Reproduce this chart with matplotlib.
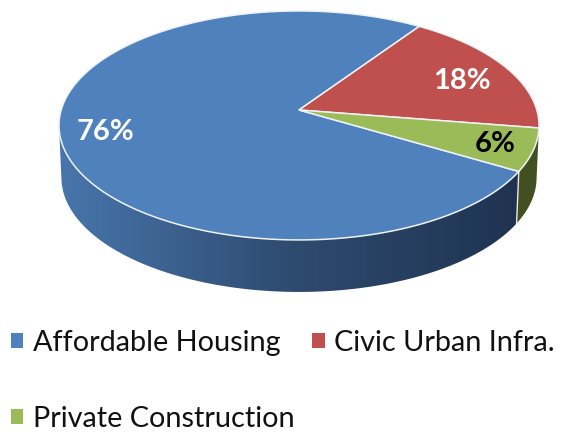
import numpy as np
import matplotlib
matplotlib.use("Agg")
import matplotlib.pyplot as plt
from matplotlib.colors import LinearSegmentedColormap
from matplotlib.patches import Patch, Polygon

plt.rcParams['font.family'] = ['Lato', 'DejaVu Sans']

categories = ["Affordable Housing", "Civic Urban Infra.", "Private Construction"]
values = [76, 18, 6]
colors = ["#4F81BD", "#C0504D", "#9BBB59"]
pct_labels = ["76%", "18%", "6%"]
pct_colors = ["white", "white", "black"]

# tilt of the disc: maps the unit circle to the image, apex stays at (ax0, ay0)
ax0, ay0 = 299, 110
q, p, k = 237.8, 112.4, 0.135
depth = 52


def project(theta, shift=0.0, scale=1.0):
    t = np.radians(theta)
    w = 1 + k*np.sin(t)
    return ax0 + scale*q*np.cos(t)/w, ay0 - p*np.sin(t)/w + shift


fig = plt.figure(figsize=(5.68, 4.40), dpi=100)
ax = fig.add_axes([0, 0, 1, 1])
wedges, _ = ax.pie(values, colors=colors, startangle=-30.6, counterclock=False, frame=True)
ax.set_aspect("auto")

# pie angles run clockwise past -360, bring the green/blue border back
border = wedges[2].theta1 + 360

# side wall, blue part with left to right shading
t_blue = np.linspace(-170, border, 300)
t_wide = np.linspace(border, -172, 300)
x1, y1 = project(t_blue)
x2, y2 = project(t_wide, depth, 0.99)
side = Polygon(np.column_stack([np.r_[x1, x2], np.r_[y1, y2]]), closed=True, fc="none", ec="none")
ax.add_patch(side)
shade = LinearSegmentedColormap.from_list("side", ["#4876AC", "#2E4B70", "#1F3350"])
im = ax.imshow(np.linspace(0, 1, 256)[None, :], extent=(58, 520, 300, 100), cmap=shade, aspect="auto", zorder=1)
im.set_clip_path(side)

# side wall of the green slice
t_g = np.linspace(border, -8, 60)
xg1, yg1 = project(t_g)
xg2, yg2 = project(t_g[::-1], depth, 0.99)
ax.fill(np.r_[xg1, xg2], np.r_[yg1, yg2], fc="#414F21", ec="none", zorder=1)
xa, ya = project(border)
xb, yb = project(border, depth, 0.99)
ax.plot([xa, xb], [ya, yb], color="#E8E8E8", lw=1, zorder=2)

# top face, angles come from the pie
for w, c in zip(wedges, colors):
    w.set_visible(False)
    t = np.linspace(w.theta1, w.theta2, 300)
    x, y = project(t)
    ax.fill(np.r_[ax0, x], np.r_[ay0, y], fc=c, ec="#EEF2F7", lw=1.1, zorder=3)

label_xy = [(106, 132), (462, 81), (495, 144)]
for s, c, (lx, ly) in zip(pct_labels, pct_colors, label_xy):
    ax.text(lx, ly, s, color=c, fontsize=21, fontweight="bold", ha="center", va="center", zorder=4)

# legend fills by column, so the first column takes housing and private
order = [0, 2, 1]
handles = [Patch(fc=colors[i], ec="none") for i in order]
ax.legend(handles, [categories[i] for i in order], ncol=2, frameon=False, fontsize=20.8,
          loc="upper left", bbox_to_anchor=(11/568, 0.25), bbox_transform=ax.transAxes,
          borderaxespad=0, borderpad=0, handlelength=0.42, handleheight=0.44, handletextpad=0.34,
          labelspacing=1.72, columnspacing=0.62, labelcolor="#111111")

ax.set_xlim(0, 568)
ax.set_ylim(440, 0)
ax.axis("off")
fig.savefig("out.png", dpi=100)
